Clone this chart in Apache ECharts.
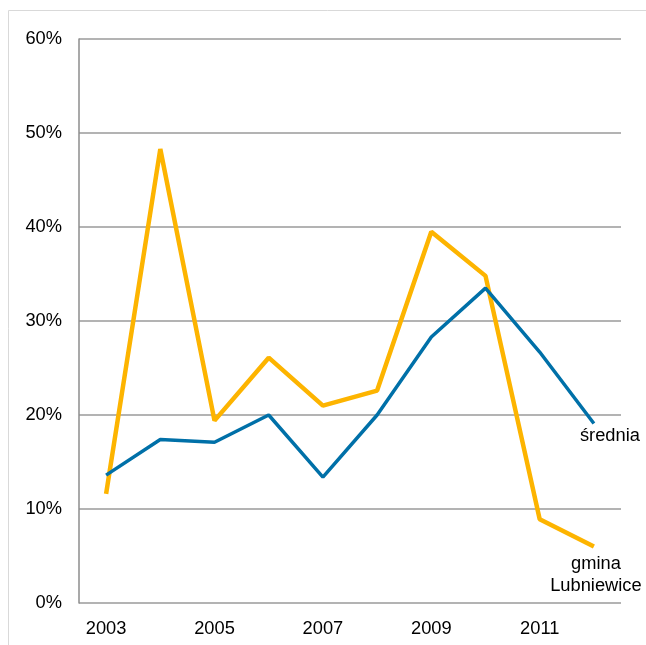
<!DOCTYPE html>
<html><head><meta charset="utf-8">
<script src="https://cdn.jsdelivr.net/npm/echarts@6/dist/echarts.min.js"></script>
<style>html,body{margin:0;padding:0;background:#fff}#c{width:646px;height:645px}</style>
</head><body><div id="c"></div>
<script>
const years = ['2003','2004','2005','2006','2007','2008','2009','2010','2011','2012'];
const gmina = [11.6, 48.3, 19.4, 26.1, 21.0, 22.6, 39.5, 34.8, 8.9, 6.0];
const srednia = [13.6, 17.4, 17.1, 20.0, 13.4, 20.0, 28.3, 33.5, 26.7, 19.1];
const yTicks = [0, 10, 20, 30, 40, 50, 60];
const gminaName = 'gmina\nLubniewice';
const sredniaName = 'średnia';

const font = 'Liberation Sans, Arial, sans-serif';
const fs = 18.3;
const chart = echarts.init(document.getElementById('c'), null, {renderer:'canvas'});
function lastLabel(arr, text, opts) {
  return arr.map((v, i) => i === arr.length - 1 ? {value: v, label: Object.assign({show: true, formatter: text}, opts)} : v);
}
chart.setOption({
  animation: false,
  graphic: [{type:'rect', shape:{x:8.5, y:10.5, width:800, height:800}, style:{fill:'none', stroke:'#d9d9d9', lineWidth:1}, z:-1}],
  grid: {left: 79, right: 25, top: 39, bottom: 42},
  xAxis: {
    type: 'category', data: years, boundaryGap: true,
    axisLine: {show: false}, axisTick: {show: false},
    axisLabel: {interval: 1, color: '#000', fontFamily: font, fontSize: fs, margin: 17}
  },
  yAxis: {
    type: 'value', min: 0, max: 60, interval: 10,
    axisLine: {show: true, lineStyle: {color: '#8c8c8c', width: 1.5}},
    axisTick: {show: false},
    splitLine: {lineStyle: {color: '#9a9a9a', width: 1.5}},
    axisLabel: {color: '#000', fontFamily: font, fontSize: fs, margin: 17, formatter: v => yTicks.includes(v) ? v + '%' : ''}
  },
  series: [
    {type: 'line', name: 'gmina', data: lastLabel(gmina, gminaName, {position: 'bottom', distance: 6, align: 'center', offset: [2, 0], color: '#000', fontFamily: font, fontSize: fs, lineHeight: 22}),
     symbol: 'circle', showSymbol: true, symbolSize: 0.01, lineStyle: {color: '#FDB400', width: 4.5}, itemStyle: {color: '#FDB400'}, z: 2},
    {type: 'line', name: 'srednia', data: lastLabel(srednia, sredniaName, {position: 'bottom', distance: 3, offset: [16, 0], color: '#000', fontFamily: font, fontSize: fs}),
     symbol: 'circle', showSymbol: true, symbolSize: 0.01, lineStyle: {color: '#0070A8', width: 3.5}, itemStyle: {color: '#0070A8'}, z: 3}
  ]
});
</script></body></html>
